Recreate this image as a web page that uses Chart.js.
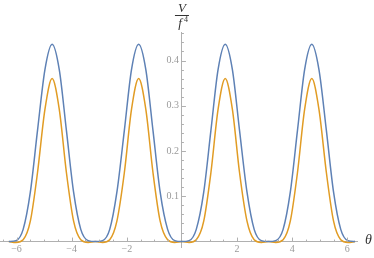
<!DOCTYPE html>
<html>
<head>
<meta charset="utf-8">
<script src="https://cdn.jsdelivr.net/npm/chart.js@4"></script>
<style>
  html, body { margin: 0; padding: 0; background: #fff; }
  #wrap { width: 374px; height: 258px; position: relative; }
</style>
</head>
<body>
<div id="wrap"><canvas id="plot"></canvas></div>
<script>
// theta samples (steps of pi/12 from -2pi to 2pi)
var thetas = [
    -6.28, -6.02, -5.76, -5.50, -5.24, -4.97, -4.71, -4.45, -4.19, -3.93, -3.67, -3.40,
    -3.14, -2.88, -2.62, -2.36, -2.09, -1.83, -1.57, -1.31, -1.05, -0.79, -0.52, -0.26,
    0, 0.26, 0.52, 0.79, 1.05, 1.31, 1.57, 1.83, 2.09, 2.36, 2.62, 2.88,
    3.14, 3.40, 3.67, 3.93, 4.19, 4.45, 4.71, 4.97, 5.24, 5.50, 5.76, 6.02, 6.28
];
// V/f^4, upper (blue) curve
var blueVals = [
    0, 0.002, 0.027, 0.109, 0.245, 0.380, 0.436, 0.380, 0.245, 0.109, 0.027, 0.002,
    0, 0.002, 0.027, 0.109, 0.245, 0.380, 0.436, 0.380, 0.245, 0.109, 0.027, 0.002,
    0, 0.002, 0.027, 0.109, 0.245, 0.380, 0.436, 0.380, 0.245, 0.109, 0.027, 0.002,
    0, 0.002, 0.027, 0.109, 0.245, 0.380, 0.436, 0.380, 0.245, 0.109, 0.027, 0.002,
    0
];
// V/f^4, lower (orange) curve
var orangeVals = [
    0, -0.002, 0.004, 0.045, 0.152, 0.292, 0.360, 0.292, 0.152, 0.045, 0.004, -0.002,
    0, -0.002, 0.004, 0.045, 0.152, 0.292, 0.360, 0.292, 0.152, 0.045, 0.004, -0.002,
    0, -0.002, 0.004, 0.045, 0.152, 0.292, 0.360, 0.292, 0.152, 0.045, 0.004, -0.002,
    0, -0.002, 0.004, 0.045, 0.152, 0.292, 0.360, 0.292, 0.152, 0.045, 0.004, -0.002,
    0
];
var xTickLabels = [-6, -4, -2, 2, 4, 6];
var yTickLabels = [0.1, 0.2, 0.3, 0.4];

function toPoints(vals) {
    return thetas.map(function(t, i) { return { x: t, y: vals[i] }; });
}

var axisGray = '#b0b0b0';
var labelGray = '#9a9a9a';
var serif = "'Liberation Serif', 'DejaVu Serif', serif";

// small inward ticks like Mathematica, y tick labels and the axis titles
var ticksAndTitles = {
    id: 'ticksAndTitles',
    afterDraw: function(chart) {
        var ctx = chart.ctx;
        var xs = chart.scales.x, ys = chart.scales.y;
        var x0 = xs.getPixelForValue(0), y0 = ys.getPixelForValue(0);
        ctx.save();
        ctx.strokeStyle = axisGray;
        ctx.lineWidth = 1;
        ctx.beginPath();
        for (var i = -13; i <= 12; i++) {
            var v = i * 0.5;
            if (v === 0) continue;
            var px = Math.round(xs.getPixelForValue(v)) + 0.5;
            var len = (v % 2 === 0) ? 4 : 2;
            ctx.moveTo(px, y0);
            ctx.lineTo(px, y0 - len);
        }
        for (var j = 1; j <= 23; j++) {
            var py = Math.round(ys.getPixelForValue(j * 0.02)) + 0.5;
            var l2 = (j % 5 === 0) ? 4 : 2;
            ctx.moveTo(x0, py);
            ctx.lineTo(x0 + l2, py);
        }
        ctx.stroke();

        // y tick labels, left of the axis
        ctx.fillStyle = labelGray;
        ctx.font = '10px ' + serif;
        ctx.textAlign = 'right';
        ctx.textBaseline = 'middle';
        yTickLabels.forEach(function(v) {
            ctx.fillText(v.toFixed(1), x0 - 3, ys.getPixelForValue(v));
        });

        ctx.fillStyle = '#333';
        ctx.font = 'italic 14px ' + serif;
        ctx.textAlign = 'left';
        ctx.textBaseline = 'middle';
        ctx.fillText('\u03b8', xs.right + 8, y0 - 1);

        ctx.font = 'italic 13px ' + serif;
        ctx.textAlign = 'center';
        ctx.textBaseline = 'alphabetic';
        ctx.fillText('V', x0, 12);
        ctx.fillRect(x0 - 7, 15, 14, 1);
        ctx.fillText('f', x0 - 2, 27);
        ctx.font = '8px ' + serif;
        ctx.fillText('4', x0 + 4, 22);
        ctx.restore();
    }
};

var ctx = document.getElementById('plot').getContext('2d');
var chart = new Chart(ctx, {
    type: 'line',
    data: {
        datasets: [
            {
                label: 'blue',
                data: toPoints(blueVals),
                borderColor: '#5e81b5',
                borderWidth: 1.5,
                pointRadius: 0,
                cubicInterpolationMode: 'monotone',
                fill: false
            },
            {
                label: 'orange',
                data: toPoints(orangeVals),
                borderColor: '#e19c24',
                borderWidth: 1.5,
                pointRadius: 0,
                cubicInterpolationMode: 'monotone',
                fill: false
            }
        ]
    },
    options: {
        responsive: true,
        maintainAspectRatio: false,
        animation: false,
        layout: { padding: { left: 0, right: 17, top: 32, bottom: 11 } },
        plugins: { legend: { display: false }, tooltip: { enabled: false } },
        scales: {
            x: {
                type: 'linear',
                min: -6.6,
                max: 6.35,
                position: { y: 0 },
                grid: { drawOnChartArea: false, drawTicks: false },
                border: { color: axisGray, width: 1 },
                afterBuildTicks: function(scale) {
                    scale.ticks = xTickLabels.map(function(v) { return { value: v }; });
                },
                ticks: {
                    color: labelGray,
                    font: { family: serif, size: 10 },
                    maxRotation: 0,
                    padding: 2,
                    callback: function(v) { return v < 0 ? '\u2212' + Math.abs(v) : String(v); }
                }
            },
            y: {
                type: 'linear',
                min: -0.012,
                max: 0.463,
                position: { x: 0 },
                grid: { drawOnChartArea: false, drawTicks: false },
                border: { color: axisGray, width: 1 },
                ticks: { display: false }
            }
        }
    },
    plugins: [ticksAndTitles]
});
</script>
</body>
</html>
